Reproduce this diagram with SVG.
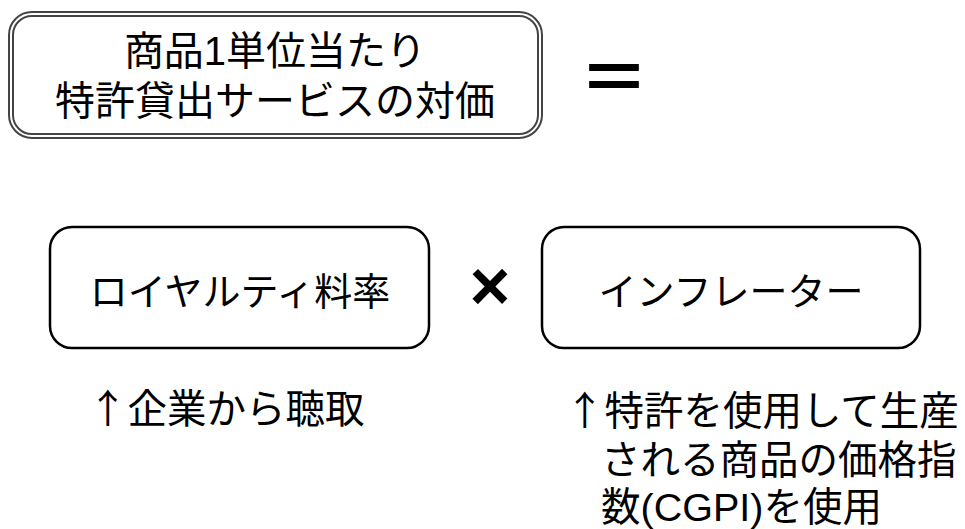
<svg xmlns="http://www.w3.org/2000/svg" width="965" height="529" viewBox="0 0 965 529">
  <style>
    .t { font-family: "Liberation Sans", "Noto Sans CJK JP", sans-serif; fill: #000; }
    .big { font-size: 40px; text-anchor: middle; }
    .box { fill: #fff; stroke: #000; stroke-width: 2.5; }
    .note { font-size: 39.5px; }
    .arr { font-family: "Noto Sans CJK JP", sans-serif; }
  </style>
  <rect width="965" height="529" fill="#fff"/>
  <g id="node-top">
    <rect x="11" y="14" width="529" height="122" rx="21" fill="#fff" stroke="#444" stroke-width="6"/>
    <rect x="11" y="14" width="529" height="122" rx="21" fill="none" stroke="#fff" stroke-width="2"/>
    <text class="t big" x="275" y="65">商品1単位当たり</text>
    <text class="t big" x="275" y="115">特許貸出サービスの対価</text>
  </g>
  <g id="op-equals">
    <text class="t" x="614" y="104" font-family="Noto Sans CJK JP" font-weight="700" font-size="70" text-anchor="middle">＝</text>
  </g>
  <g id="node-royalty">
    <rect class="box" x="50" y="227" width="379" height="121" rx="22"/>
    <text class="t" x="240" y="305" font-size="38" text-anchor="middle">ロイヤルティ料率</text>
  </g>
  <g id="op-times">
    <text class="t" x="490" y="310" font-size="70" font-weight="700" text-anchor="middle">×</text>
  </g>
  <g id="node-inflator">
    <rect class="box" x="542" y="227" width="378" height="121" rx="22"/>
    <text class="t" x="731" y="305" font-size="38" text-anchor="middle">インフレーター</text>
  </g>
  <g id="note-left">
    <text class="t note" x="88" y="423"><tspan class="arr">↑</tspan>企業から聴取</text>
  </g>
  <g id="note-right">
    <text class="t note" x="565" y="425"><tspan class="arr">↑</tspan>特許を使用して生産</text>
    <text class="t note" x="601" y="474">される商品の価格指</text>
    <text class="t note" x="601" y="521">数(CGPI)を使用</text>
  </g>
  <g id="connectors"/>
</svg>
